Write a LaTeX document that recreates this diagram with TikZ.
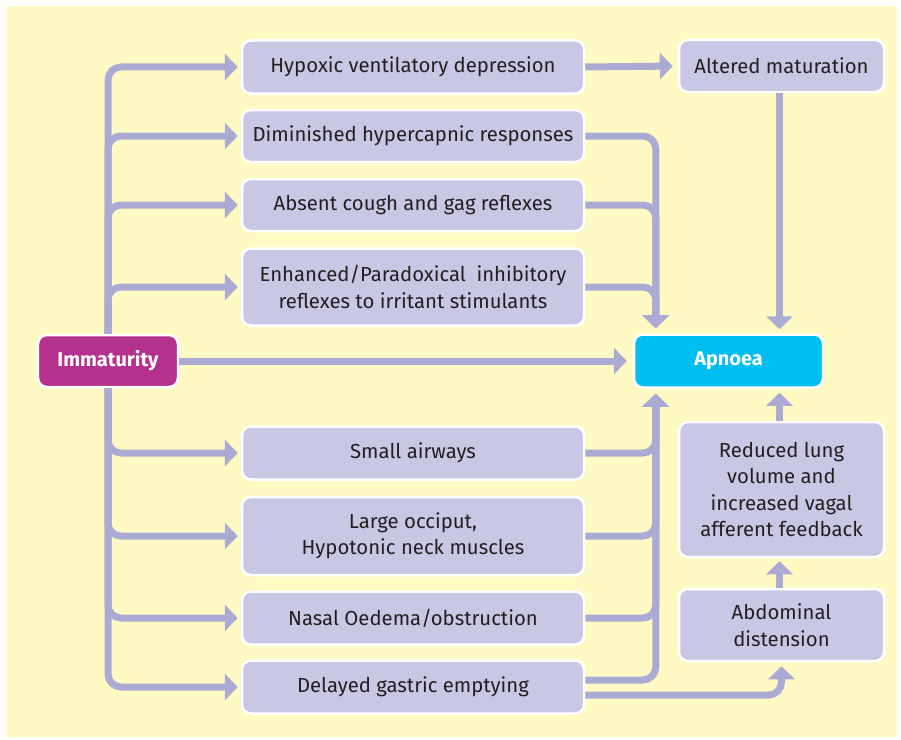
\documentclass[tikz,border=0pt]{standalone}
\usepackage{fontspec}
\setmainfont{Fira Sans}
\usetikzlibrary{arrows.meta,calc}
\definecolor{bgy}{HTML}{FFF9C4}
\definecolor{boxf}{HTML}{C8C8E4}
\definecolor{arrc}{HTML}{AAAAD4}
\definecolor{txt}{HTML}{231F20}
\definecolor{mag}{HTML}{B5318E}
\definecolor{cyanb}{HTML}{00BEF0}
\tikzset{
  box/.style={rectangle, rounded corners=9bp, fill=boxf, draw=white, line width=2.5bp,
    text=txt, align=center, font=\fontsize{20.4}{26.5}\selectfont, inner sep=0pt},
  keybox/.style={box, font=\bfseries\fontsize{20}{26.5}\selectfont, text=white},
  link/.style={draw=arrc, line width=7bp, rounded corners=13bp},
  arr/.style={link, -{Triangle[width=26bp,length=13bp]}, shorten >=3bp},
}
\begin{document}
\begin{tikzpicture}[x=1bp,y=-1bp]
\useasboundingbox (0,0) rectangle (901,740);
\fill[bgy] (7,6) rectangle (897,737);
% left column boxes
\node[box, minimum width=342bp, minimum height=53bp] (hyp) at (413,67) {Hypoxic ventilatory depression};
\node[box, minimum width=342bp, minimum height=52bp] (dim) at (413,136) {Diminished hypercapnic responses};
\node[box, minimum width=342bp, minimum height=52bp] (abs) at (413,205) {Absent cough and gag reflexes};
\node[box, minimum width=342bp, minimum height=77bp] (enh) at (413,287) {Enhanced/Paradoxical\ \ inhibitory\\reflexes to irritant stimulants};
\node[box, minimum width=342bp, minimum height=53bp] (sma) at (413,453) {Small airways};
\node[box, minimum width=342bp, minimum height=78bp] (occ) at (413,536) {Large occiput,\\Hypotonic neck muscles};
\node[box, minimum width=342bp, minimum height=53bp] (nas) at (413,618) {Nasal Oedema/obstruction};
\node[box, minimum width=342bp, minimum height=53bp] (del) at (413,687) {Delayed gastric emptying};
% key boxes
\node[keybox, fill=mag, minimum width=140bp, minimum height=52bp] (imm) at (108,361) {Immaturity};
\node[keybox, fill=cyanb, minimum width=189bp, minimum height=53bp] (apn) at (728.5,361) {Apnoea};
% right column
\node[box, minimum width=205bp, minimum height=52bp] (alt) at (781.5,66) {Altered maturation};
\node[box, minimum width=205bp, minimum height=135bp] (red) at (781.5,489.5) {Reduced lung\\volume and\\increased vagal\\afferent feedback};
\node[box, minimum width=205bp, minimum height=72bp] (abd) at (781.5,625) {Abdominal\\distension};
\coordinate (ain) at ([xshift=23bp]apn.north west);
\coordinate (aout) at ([xshift=23bp]apn.south west);
% trunk branches
\foreach \t in {hyp,dim,abs,enh}{\draw[arr] (imm.north) |- (\t.west);}
\foreach \t in {sma,occ,nas,del}{\draw[arr] (imm.south) |- (\t.west);}
\draw[arr, shorten >=6bp] (imm.east) -- (apn.west);
% right collectors
\foreach \s in {dim,abs,enh}{\draw[arr, shorten >=5bp] (\s.east) -| (ain);}
\foreach \s in {sma,occ,nas}{\draw[arr, shorten >=5bp] (\s.east) -| (aout);}
\draw[arr, shorten >=5bp] ([yshift=7bp]del.east) -| (aout);
\draw[arr, shorten >=4bp] ([yshift=-8bp]del.east) -| (abd.south);
\draw[arr, shorten >=5bp] (hyp.east) -- (alt.west);
\draw[arr, shorten >=4bp] ([xshift=-2bp]alt.south) -- ([xshift=-2bp]alt.south |- apn.north);
\draw[arr, shorten >=4bp] ([xshift=-2bp]red.north) -- ([xshift=-2bp]red.north |- apn.south);
\draw[arr, shorten >=3bp] ([xshift=-2bp]abd.north) -- ([xshift=-2bp]red.south);
\end{tikzpicture}
\end{document}
